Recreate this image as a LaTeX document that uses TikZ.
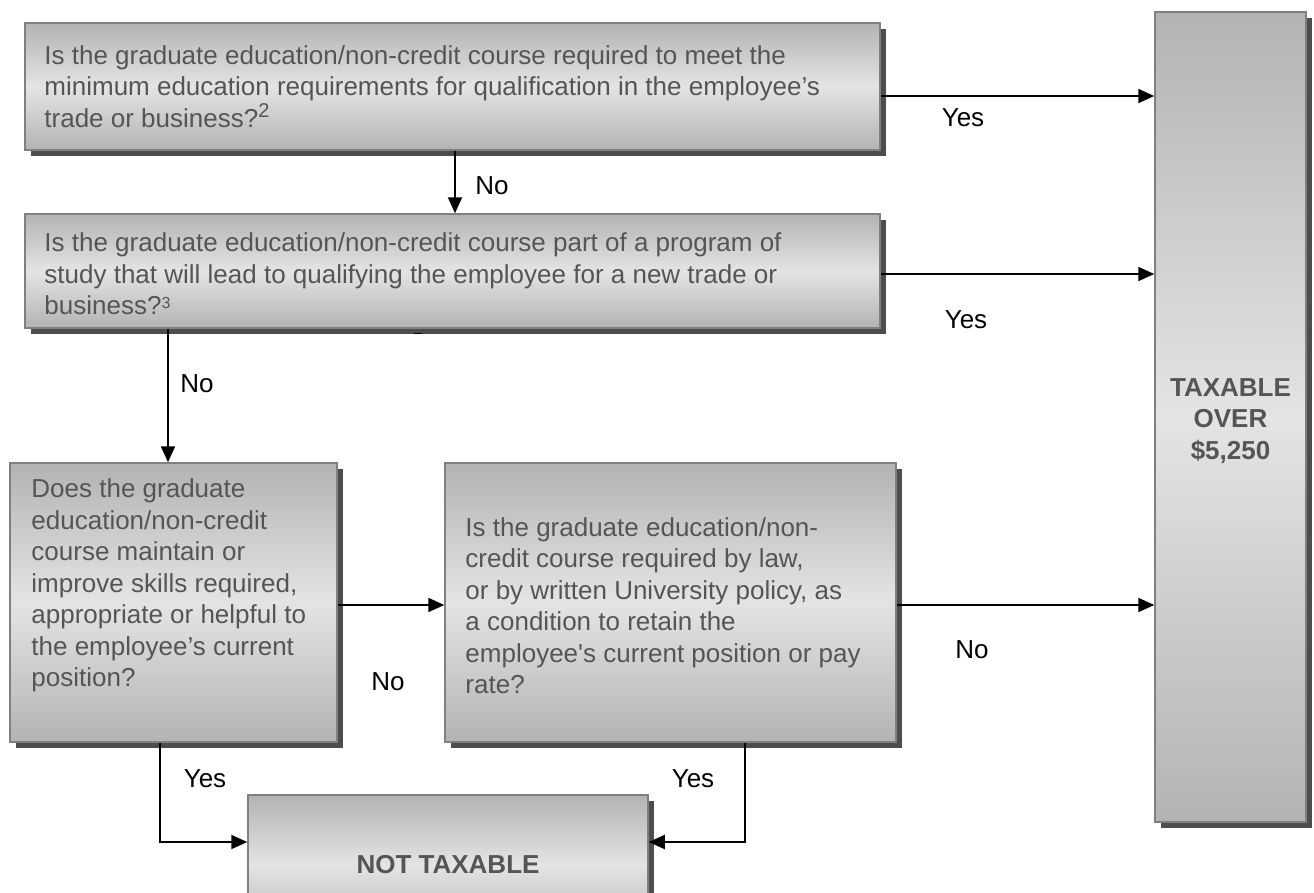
\documentclass[tikz,border=0pt]{standalone}
\usepackage{fontspec}
\setmainfont{Liberation Sans}[Ligatures=TeXOff]
\usetikzlibrary{arrows.meta,shadows}
\definecolor{gtop}{HTML}{B3B3B3}
\definecolor{gmid}{HTML}{E4E4E4}
\definecolor{bord}{HTML}{808080}
\definecolor{shad}{HTML}{4D4D4D}
\definecolor{txt}{HTML}{555555}
\begin{document}
\begin{tikzpicture}[x=1pt,y=-1pt,font=\fontsize{26}{31.5}\selectfont,
  box/.style={draw=bord, line width=1.5pt, top color=gtop, bottom color=gtop, middle color=gmid,
    inner sep=0pt, drop shadow={shadow xshift=6pt, shadow yshift=-6pt, fill=shad, opacity=1}},
  qtext/.style={text=txt, align=left, inner sep=0pt, anchor=west},
  btext/.style={text=txt, align=center, font=\fontsize{26}{31.5}\selectfont\bfseries},
  lbl/.style={text=black, inner sep=0pt},
  arr/.style={line width=2pt, -{Triangle[length=16pt,width=14pt]}},
  conn/.style={line width=2pt}]
\useasboundingbox (0,0) rectangle (1314,892);
% boxes
\node[box, minimum width=855pt, minimum height=127pt] (b1) at (452.5,86.5) {};
\node[box, minimum width=855pt, minimum height=114pt] (b2) at (452.5,271) {};
\node[box, minimum width=327pt, minimum height=279pt] (b3) at (173.5,602.5) {};
\node[box, minimum width=451pt, minimum height=279pt] (b4) at (670.5,602.5) {};
\node[box, minimum width=151pt, minimum height=810pt] (tx) at (1230.5,417) {};
\node[btext, inner sep=0pt] (txt) at (1230.5,421) {TAXABLE\\OVER\\\$5,250};
\node[box, btext, minimum width=400pt, minimum height=140pt] (nt) at (448,865) {NOT TAXABLE};
% question texts
\node[qtext] (q1) at ([xshift=20pt,yshift=0pt]b1.west) {Is the graduate education/non-credit course required to meet the\\minimum education requirements for qualification in the employee’s\\trade or business?\raisebox{10pt}{\fontsize{20}{20}\selectfont 2}};
\node[qtext] (q2) at ([xshift=20pt,yshift=-3pt]b2.west) {Is the graduate education/non-credit course part of a program of\\study that will lead to qualifying the employee for a new trade or\\business?\raisebox{6pt}{\fontsize{16}{16}\selectfont 3}};
\node[qtext] (q3) at ([xshift=22pt,yshift=17pt]b3.west) {Does the graduate\\education/non-credit\\course maintain or\\improve skills required,\\appropriate or helpful to\\the employee’s current\\position?};
\node[qtext] (q4) at ([xshift=21pt,yshift=-3pt]b4.west) {Is the graduate education/non-\\credit course required by law,\\or by written University policy, as\\a condition to retain the\\employee's current position or pay\\rate?};
% helper coordinates
\coordinate (ya) at (0,96);
\coordinate (yb) at (0,274);
\coordinate (yc) at (0,605);
\coordinate (yd) at (0,842);
\coordinate (xa) at (455,0);
\coordinate (xb) at (168,0);
\coordinate (xc) at (160,0);
\coordinate (xd) at (745,0);
% connectors
\draw[arr] (b1.east |- ya) -- (tx.west |- ya);
\draw[arr] (b2.east |- yb) -- (tx.west |- yb);
\draw[arr] (xa |- b1.south) -- (xa |- b2.north);
\draw[arr] (xb |- b2.south) -- (xb |- b3.north);
\draw[arr] (b3.east |- yc) -- (b4.west |- yc);
\draw[arr] (b4.east |- yc) -- (tx.west |- yc);
\draw[arr] (xc |- b3.south) |- (nt.west |- yd);
\draw[arr] (xd |- b4.south) |- (nt.east |- yd);
\draw[line width=1pt] (414,333) -- (422,333);
% labels
\node[lbl] (l1) at (963,118) {Yes};
\node[lbl] (l2) at (966,320) {Yes};
\node[lbl] (l3) at (492,186) {No};
\node[lbl] (l4) at (197,384) {No};
\node[lbl] (l5) at (388,682) {No};
\node[lbl] (l6) at (972,650) {No};
\node[lbl] (l7) at (205,779) {Yes};
\node[lbl] (l8) at (693,779) {Yes};
\end{tikzpicture}
\end{document}
